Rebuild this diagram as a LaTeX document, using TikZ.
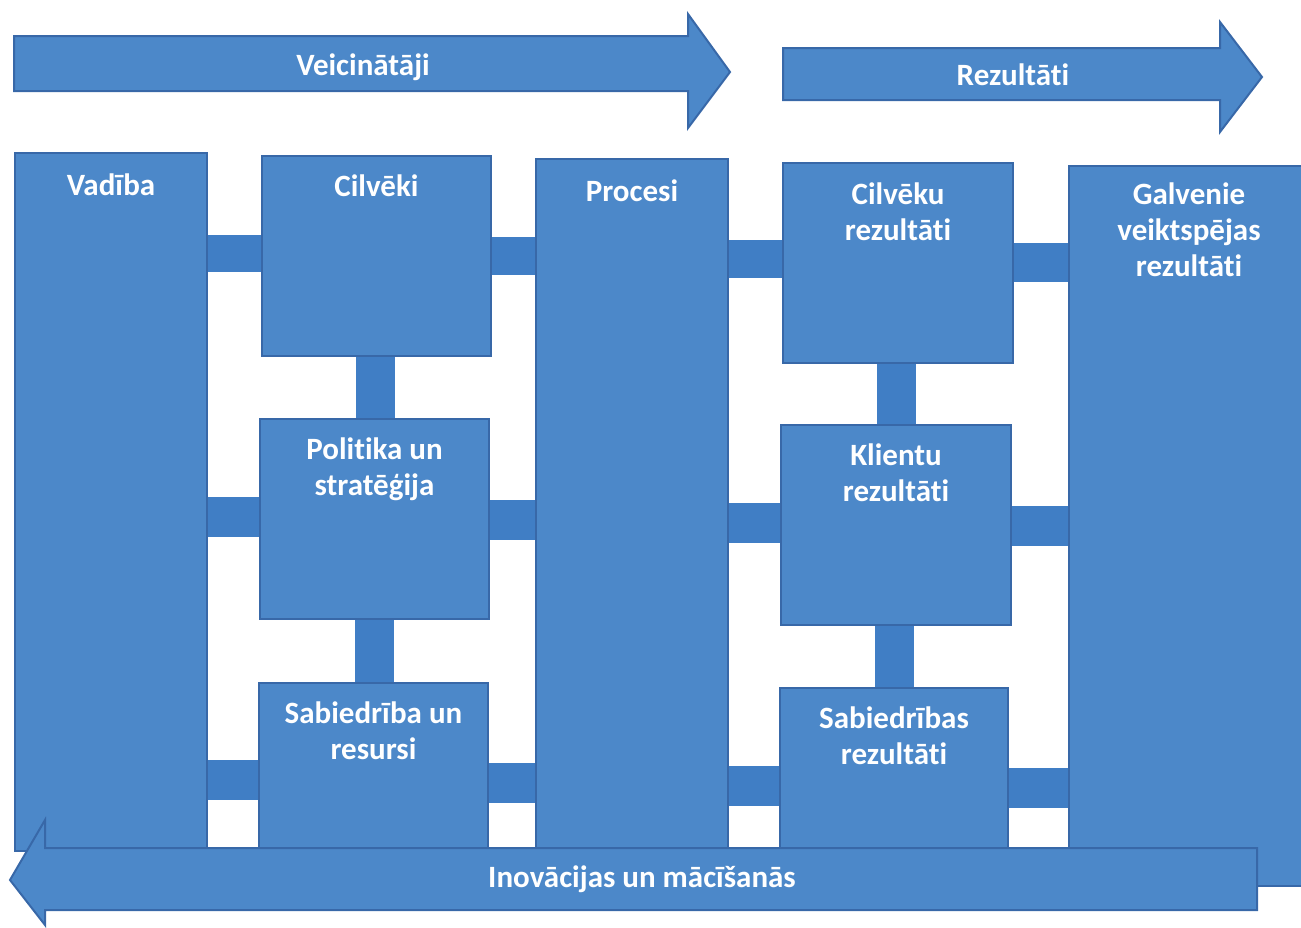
\documentclass[tikz,border=0pt]{standalone}
\usepackage{fontspec}
\setmainfont{Carlito}[Ligatures=NoCommon]
\usetikzlibrary{calc}
\pgfdeclarelayer{bg}
\pgfsetlayers{bg,main}
\definecolor{efqmfill}{RGB}{76,136,201}
\definecolor{efqmline}{RGB}{56,104,168}
\definecolor{efqmconn}{RGB}{64,126,197}
\begin{document}
\begin{tikzpicture}[x=1pt,y=-1pt,
  blk/.style={draw=efqmline, line width=2pt, fill=efqmfill, anchor=north west, inner sep=0pt},
  conn/.style={fill=efqmconn},
  arr/.style={fill=efqmfill, draw=efqmline, line width=2pt, line join=miter},
  ttl/.style={text=white, font=\bfseries\fontsize{31}{36}\selectfont, align=center, inner sep=0pt, anchor=north},
]
\useasboundingbox (0,0) rectangle (1301,927);

% columns and boxes
\node[blk, minimum width=192pt, minimum height=698pt] (vad) at (14,152) {};
\node[blk, minimum width=229pt, minimum height=200pt] (cil) at (261,155) {};
\node[blk, minimum width=229pt, minimum height=200pt] (pol) at (259,418) {};
\node[blk, minimum width=229pt, minimum height=175pt] (sab) at (258,682) {};
\node[blk, minimum width=192pt, minimum height=694pt] (pro) at (535,158) {};
\node[blk, minimum width=230pt, minimum height=200pt] (cr) at (782,162) {};
\node[blk, minimum width=230pt, minimum height=200pt] (kr) at (780,424) {};
\node[blk, minimum width=228pt, minimum height=175pt] (sr) at (779,687) {};
\node[blk, minimum width=240pt, minimum height=720pt] (gal) at (1068,165) {};

\node[ttl] (vadT) at ([yshift=-22pt]vad.north) {Vadība};
\node[ttl] (cilT) at ([yshift=-20pt]cil.north) {Cilvēki};
\node[ttl] (proT) at ([yshift=-22pt]pro.north) {Procesi};
\node[ttl] (crT) at ([yshift=-21pt]cr.north) {Cilvēku\\rezultāti};
\node[ttl] (galT) at ([yshift=-18pt]gal.north) {Galvenie\\veiktspējas\\rezultāti};
\node[ttl] (polT) at ([yshift=-20pt]pol.north) {Politika un\\stratēģija};
\node[ttl] (krT) at ([yshift=-20pt]kr.north) {Klientu\\rezultāti};
\node[ttl] (sabT) at ([yshift=-20pt]sab.north) {Sabiedrība un\\resursi};
\node[ttl] (srT) at ([yshift=-20pt]sr.north) {Sabiedrības\\rezultāti};

% connectors
\begin{pgfonlayer}{bg}
\fill[conn] (vad.east |- 0,235) rectangle (cil.west |- 0,272);
\fill[conn] (cil.east |- 0,237) rectangle (pro.west |- 0,275);
\fill[conn] (pro.east |- 0,240) rectangle (cr.west |- 0,278);
\fill[conn] (cr.east |- 0,243) rectangle (gal.west |- 0,282);
\fill[conn] (vad.east |- 0,497) rectangle (pol.west |- 0,537);
\fill[conn] (pol.east |- 0,500) rectangle (pro.west |- 0,540);
\fill[conn] (pro.east |- 0,503) rectangle (kr.west |- 0,543);
\fill[conn] (kr.east |- 0,506) rectangle (gal.west |- 0,546);
\fill[conn] (vad.east |- 0,760) rectangle (sab.west |- 0,800);
\fill[conn] (sab.east |- 0,763) rectangle (pro.west |- 0,803);
\fill[conn] (pro.east |- 0,766) rectangle (sr.west |- 0,806);
\fill[conn] (sr.east |- 0,768) rectangle (gal.west |- 0,808);
\fill[conn] (cil.south -| 356,0) rectangle (pol.north -| 395,0);
\fill[conn] (pol.south -| 355,0) rectangle (sab.north -| 394,0);
\fill[conn] (cr.south -| 877,0) rectangle (kr.north -| 916,0);
\fill[conn] (kr.south -| 875,0) rectangle (sr.north -| 914,0);
\end{pgfonlayer}

% top arrows
\draw[arr] (14,36) -- (688,36) -- (688,14) -- (730,72) -- (688,128) -- (688,91) -- (14,91) -- cycle;
\node[ttl, anchor=center] (veic) at (363,67) {Veicinātāji};
\draw[arr] (783,48) -- (1220,48) -- (1220,22) -- (1262,77) -- (1220,132) -- (1220,100) -- (783,100) -- cycle;
\node[ttl, anchor=center] (rez) at (1013,75) {Rezultāti};

% bottom arrow
\draw[arr] (1257,848) -- (45,848) -- (45,820) -- (10,880) -- (45,925) -- (45,910) -- (1257,910) -- cycle;
\node[ttl, anchor=center] (ino) at (642,879) {Inovācijas un mācīšanās};
\end{tikzpicture}
\end{document}
